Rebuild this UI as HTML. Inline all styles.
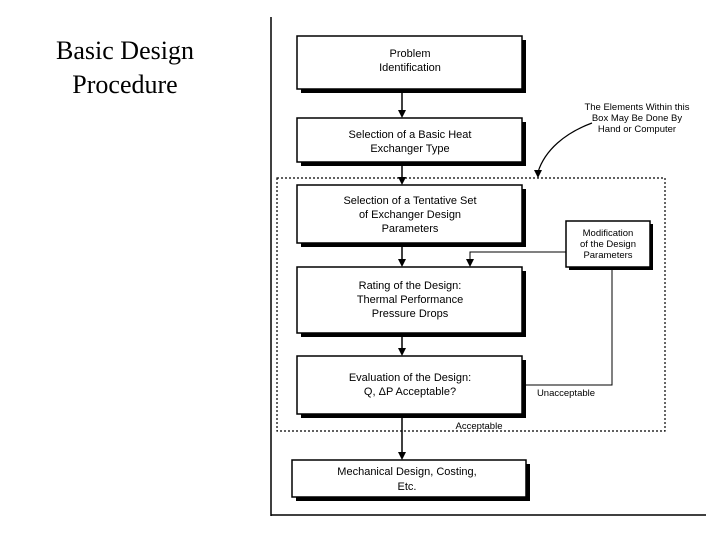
<!DOCTYPE html>
<html><head><meta charset="utf-8"><style>
html,body{margin:0;padding:0;background:#fff;}
svg{display:block;}
</style></head><body>
<svg width="720" height="540" viewBox="0 0 720 540" xmlns="http://www.w3.org/2000/svg">
<g font-family="Liberation Serif, serif" font-size="26" fill="#000" text-anchor="middle">
<text x="125" y="59">Basic Design</text>
<text x="125" y="93">Procedure</text>
</g>
<line x1="271" y1="17" x2="271" y2="516" stroke="#000" stroke-width="1.5"/>
<line x1="271" y1="515" x2="706" y2="515" stroke="#000" stroke-width="1.5"/>
<rect x="277" y="178" width="388" height="253" fill="none" stroke="#000" stroke-width="1.2" stroke-dasharray="2,2"/>
<g stroke="#000" stroke-width="1.5" fill="#fff">
<rect x="301" y="40" width="225" height="53" fill="#000" stroke="none"/>
<rect x="297" y="36" width="225" height="53"/>
<rect x="301" y="122" width="225" height="44" fill="#000" stroke="none"/>
<rect x="297" y="118" width="225" height="44"/>
<rect x="301" y="189" width="225" height="58" fill="#000" stroke="none"/>
<rect x="297" y="185" width="225" height="58"/>
<rect x="301" y="271" width="225" height="66" fill="#000" stroke="none"/>
<rect x="297" y="267" width="225" height="66"/>
<rect x="301" y="360" width="225" height="58" fill="#000" stroke="none"/>
<rect x="297" y="356" width="225" height="58"/>
<rect x="296" y="464" width="234" height="37" fill="#000" stroke="none"/>
<rect x="292" y="460" width="234" height="37"/>
<rect x="569" y="224" width="84" height="46" fill="#000" stroke="none"/>
<rect x="566" y="221" width="84" height="46"/>
</g>
<g stroke="#000" stroke-width="1.5" fill="none">
<line x1="402" y1="89" x2="402" y2="112"/>
<line x1="402" y1="162" x2="402" y2="179"/>
<line x1="402" y1="243" x2="402" y2="261"/>
<line x1="402" y1="333" x2="402" y2="350"/>
<line x1="402" y1="414" x2="402" y2="454"/>
<polyline points="566,252 470,252 470,261" stroke-width="1"/>
<polyline points="522,385 612,385 612,267" stroke-width="1"/>
<path d="M592,123 C565,133 545,150 538,172" stroke-width="1.2"/>
</g>
<g fill="#000">
<path d="M398,110 L406,110 L402,118 z"/>
<path d="M398,177 L406,177 L402,185 z"/>
<path d="M398,259 L406,259 L402,267 z"/>
<path d="M398,348 L406,348 L402,356 z"/>
<path d="M398,452 L406,452 L402,460 z"/>
<path d="M466,259 L474,259 L470,267 z"/>
<path d="M534,170 L542,170 L538,178 z"/>
</g>
<g font-family="Liberation Sans, Arial, sans-serif" fill="#000" text-anchor="middle" font-size="11">
<text x="410" y="57">Problem</text>
<text x="410" y="71">Identification</text>
<text x="410" y="138">Selection of a Basic Heat</text>
<text x="410" y="152">Exchanger Type</text>
<text x="410" y="204">Selection of a Tentative Set</text>
<text x="410" y="218">of Exchanger Design</text>
<text x="410" y="232">Parameters</text>
<text x="410" y="289">Rating of the Design:</text>
<text x="410" y="303">Thermal Performance</text>
<text x="410" y="317">Pressure Drops</text>
<text x="410" y="381">Evaluation of the Design:</text>
<text x="410" y="395">Q, ΔP Acceptable?</text>
<text x="407" y="475">Mechanical Design, Costing,</text>
<text x="407" y="490">Etc.</text>
<g font-size="9.5">
<text x="608" y="236">Modification</text>
<text x="608" y="247">of the Design</text>
<text x="608" y="258">Parameters</text>
<text x="637" y="110">The Elements Within this</text>
<text x="637" y="121">Box May Be Done By</text>
<text x="637" y="132">Hand or Computer</text>
<text x="566" y="396">Unacceptable</text>
<text x="479" y="429">Acceptable</text>
</g>
</g>
</svg>
</body></html>
